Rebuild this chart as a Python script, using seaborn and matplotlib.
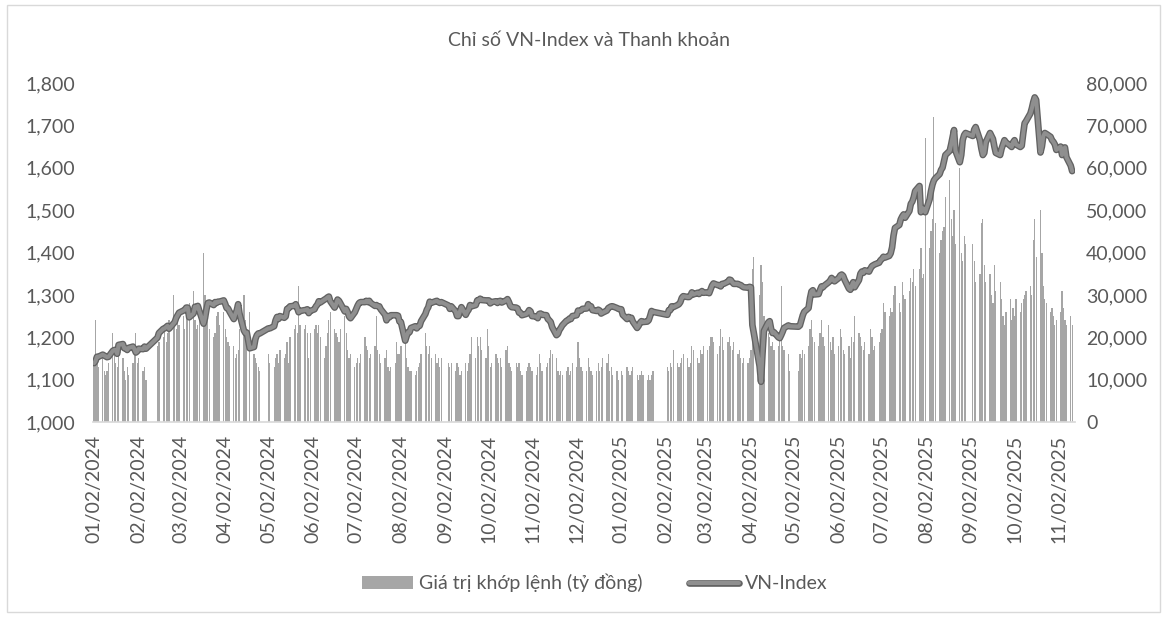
import datetime as dt
import matplotlib
matplotlib.use("Agg")
import matplotlib.pyplot as plt
import matplotlib.dates as mdates
import matplotlib.patheffects as pe
from matplotlib.patches import Patch, Rectangle
from matplotlib.lines import Line2D
from matplotlib.ticker import FuncFormatter, MultipleLocator
import pandas as pd
import seaborn as sns

# Data: one row per month, one value per trading day
months = pd.period_range("2024-01", "2025-11", freq="M")
last_day = "2025-11-11"
holidays = ["2024-02-08", "2024-02-09", "2024-02-12", "2024-02-13", "2024-02-14",
            "2024-04-18", "2024-04-29", "2024-04-30", "2024-05-01",
            "2024-09-02", "2024-09-03",
            "2025-01-01", "2025-01-27", "2025-01-28", "2025-01-29", "2025-01-30",
            "2025-01-31", "2025-04-07", "2025-04-30", "2025-05-01", "2025-05-02",
            "2025-09-01", "2025-09-02"]

vnindex = [
    [1139, 1144, 1154, 1154, 1159, 1157, 1155, 1153, 1154, 1168, 1170, 1170, 1161, 1182, 1184, 1174, 1174, 1170, 1175, 1178, 1172, 1164],
    [1167, 1173, 1172, 1178, 1173, 1199, 1210, 1220, 1221, 1224, 1227, 1220, 1232, 1236, 1246, 1252],
    [1258, 1263, 1265, 1270, 1270, 1247, 1256, 1272, 1268, 1274, 1263, 1232, 1245, 1266, 1281, 1282, 1276, 1283, 1281, 1284, 1284],
    [1287, 1279, 1269, 1268, 1261, 1243, 1254, 1263, 1278, 1255, 1216, 1210, 1211, 1174, 1177, 1196, 1205, 1209, 1209],
    [1221, 1221, 1226, 1240, 1248, 1243, 1250, 1246, 1249, 1267, 1268, 1273, 1274, 1278, 1269, 1259, 1262, 1264, 1264, 1266, 1257, 1262],
    [1266, 1273, 1277, 1285, 1282, 1289, 1291, 1294, 1296, 1285, 1270, 1278, 1289, 1286, 1280, 1261, 1267, 1260, 1249, 1245],
    [1259, 1267, 1275, 1281, 1283, 1283, 1286, 1283, 1286, 1281, 1274, 1276, 1273, 1273, 1266, 1253, 1240, 1250, 1247, 1252, 1252, 1252, 1251],
    [1237, 1236, 1192, 1203, 1212, 1212, 1222, 1226, 1221, 1226, 1227, 1238, 1255, 1265, 1271, 1284, 1281, 1285, 1286, 1283, 1281, 1283],
    [1275, 1267, 1273, 1261, 1250, 1250, 1261, 1271, 1253, 1260, 1265, 1276, 1273, 1276, 1287, 1287, 1291, 1288, 1287],
    [1287, 1287, 1280, 1283, 1285, 1281, 1285, 1286, 1282, 1287, 1290, 1283, 1274, 1271, 1270, 1268, 1258, 1258, 1252, 1255, 1258, 1264, 1261],
    [1250, 1249, 1245, 1255, 1256, 1253, 1252, 1243, 1240, 1236, 1224, 1205, 1208, 1217, 1222, 1228, 1239, 1240, 1244, 1243, 1250],
    [1252, 1263, 1262, 1263, 1267, 1268, 1278, 1273, 1273, 1264, 1262, 1265, 1263, 1256, 1258, 1263, 1269, 1271, 1273, 1273, 1269, 1267],
    [1266, 1253, 1243, 1248, 1245, 1246, 1237, 1222, 1227, 1234, 1238, 1236, 1237, 1240, 1250, 1262, 1260],
    [1253, 1264, 1264, 1273, 1271, 1276, 1278, 1283, 1293, 1297, 1295, 1295, 1298, 1306, 1301, 1305, 1302, 1306, 1309, 1305],
    [1306, 1304, 1313, 1322, 1327, 1323, 1323, 1320, 1326, 1326, 1331, 1336, 1335, 1330, 1326, 1326, 1324, 1323, 1320, 1318, 1317],
    [1319, 1318, 1229, 1210, 1132, 1095, 1160, 1215, 1235, 1238, 1220, 1210, 1212, 1200, 1198, 1205, 1213, 1222, 1228, 1226],
    [1225, 1228, 1240, 1252, 1260, 1269, 1292, 1308, 1311, 1301, 1302, 1312, 1320, 1318, 1322, 1330, 1334, 1340, 1336, 1332],
    [1340, 1346, 1348, 1345, 1336, 1315, 1312, 1322, 1330, 1318, 1335, 1350, 1355, 1352, 1358, 1355, 1362, 1368, 1370, 1372, 1376],
    [1382, 1385, 1390, 1388, 1392, 1398, 1412, 1440, 1458, 1465, 1478, 1485, 1490, 1482, 1498, 1515, 1520, 1530, 1545, 1557, 1495, 1505, 1502],
    [1495, 1525, 1545, 1560, 1570, 1575, 1585, 1595, 1600, 1615, 1630, 1640, 1655, 1672, 1689, 1640, 1613, 1630, 1665, 1677, 1682],
    [1675, 1690, 1696, 1665, 1645, 1630, 1635, 1660, 1682, 1675, 1668, 1650, 1635, 1630, 1645, 1655, 1665, 1660, 1652, 1649],
    [1660, 1665, 1655, 1649, 1652, 1680, 1705, 1710, 1728, 1740, 1755, 1766, 1760, 1636, 1650, 1675, 1682, 1680, 1673, 1665, 1661, 1655, 1642],
    [1650, 1630, 1642, 1648, 1625, 1605, 1592],
]

# matched value, thousand billion VND
volume_k = [
    [14, 24, 15, 13, 15, 12, 11, 12, 14, 21, 16, 14, 13, 16, 15, 12, 10, 13, 11, 14, 16, 21],
    [14, 15, 12, 13, 10, 18, 19, 20, 22, 19, 21, 24, 30, 24, 22, 26],
    [23, 25, 22, 26, 24, 28, 31, 24, 22, 23, 25, 40, 30, 26, 24, 22, 20, 21, 25, 26, 23],
    [26, 22, 20, 19, 18, 18, 15, 16, 17, 22, 30, 24, 18, 26, 16, 15, 14, 13, 12],
    [16, 14, 13, 15, 16, 14, 17, 15, 16, 19, 14, 20, 22, 23, 21, 32, 23, 22, 23, 21, 15, 21],
    [22, 23, 21, 23, 20, 15, 18, 21, 24, 26, 22, 21, 20, 19, 22, 25, 21, 17, 15, 16],
    [13, 14, 15, 14, 16, 20, 18, 17, 15, 16, 18, 25, 17, 16, 14, 15, 17, 13, 12, 13, 14, 19, 16],
    [16, 18, 21, 15, 13, 12, 12, 11, 12, 13, 14, 16, 21, 18, 16, 18, 15, 16, 14, 15, 13, 15],
    [14, 13, 14, 12, 14, 13, 11, 12, 14, 12, 14, 16, 20, 15, 20, 18, 20, 17, 15],
    [22, 18, 13, 14, 16, 15, 14, 15, 13, 17, 18, 14, 13, 12, 14, 13, 14, 12, 11, 12, 13, 14, 13],
    [12, 11, 13, 16, 14, 12, 13, 14, 15, 17, 16, 15, 12, 11, 12, 11, 12, 13, 11, 12, 14],
    [13, 19, 15, 13, 12, 12, 15, 13, 12, 11, 12, 14, 12, 13, 15, 14, 16, 12, 13, 11, 12, 10],
    [12, 11, 13, 12, 11, 12, 13, 11, 10, 11, 12, 11, 10, 11, 10, 11, 12],
    [13, 12, 14, 13, 17, 14, 13, 14, 15, 16, 15, 13, 14, 18, 17, 15, 14, 17, 16, 18],
    [17, 18, 20, 20, 19, 16, 18, 22, 20, 17, 19, 20, 18, 17, 19, 16, 17, 15, 14, 15, 14],
    [15, 17, 36, 39, 30, 37, 33, 25, 21, 20, 18, 19, 17, 18, 20, 32, 18, 17, 16, 12],
    [12, 16, 15, 17, 16, 18, 22, 24, 20, 19, 18, 21, 24, 20, 18, 23, 19, 17, 20, 16],
    [18, 22, 20, 17, 16, 18, 15, 20, 19, 25, 21, 20, 18, 17, 19, 16, 22, 20, 17, 18, 19],
    [21, 22, 28, 26, 25, 27, 26, 30, 32, 28, 26, 33, 30, 29, 31, 34, 33, 36, 32, 36, 41, 34, 35],
    [67, 41, 45, 48, 72, 47, 40, 43, 45, 46, 53, 57, 48, 44, 50, 42, 60, 40, 38, 44, 42],
    [42, 38, 33, 35, 47, 48, 37, 33, 35, 30, 28, 37, 31, 33, 29, 25, 23, 26, 29, 24],
    [27, 25, 29, 26, 28, 29, 30, 31, 32, 30, 43, 48, 39, 50, 40, 32, 29, 28, 26, 27, 25, 23, 24],
    [26, 31, 27, 24, 23, 25, 23],
]

title = "Chỉ số VN-Index và Thanh khoản"
bar_label = "Giá trị khớp lệnh (tỷ đồng)"
line_label = "VN-Index"

# Trading days (weekdays minus exchange holidays), matched month by month
trading = pd.bdate_range("2024-01-02", last_day)
trading = trading[~trading.isin(pd.to_datetime(holidays))]

rows = []
for m, iv, vv in zip(months, vnindex, volume_k):
    days = trading[(trading.year == m.year) & (trading.month == m.month)]
    if len(days) != len(iv) or len(days) != len(vv):
        raise ValueError(f"{m}: {len(days)} days, {len(iv)} index, {len(vv)} volume")
    for d, i, v in zip(days, iv, vv):
        rows.append({"date": d, "vnindex": i, "volume": v * 1000})
df = pd.DataFrame(rows)

sns.set_theme(style="white")
plt.rcParams["font.family"] = ["Lato", "DejaVu Sans"]
text_color = "#595959"
bar_color = "#a6a6a6"
line_color = "#8f8f8f"
line_fx = [pe.Stroke(linewidth=4.8, foreground="#626262"), pe.Normal()]

fig = plt.figure(figsize=(11.67, 6.17), dpi=100)
ax = fig.add_axes([0.0797, 0.316, 0.8415, 0.5495])
ax2 = ax.twinx()

ax2.bar(df["date"], df["volume"], width=0.85, color=bar_color, linewidth=0)
sns.lineplot(data=df, x="date", y="vnindex", ax=ax, color=line_color,
             linewidth=2.9, path_effects=line_fx)

# line on top of the bars
ax.set_zorder(ax2.get_zorder() + 1)
ax.patch.set_visible(False)

ax.set_xlim(dt.datetime(2024, 1, 1, 6), dt.datetime(2025, 11, 13))
ax.set_ylim(1000, 1800)
ax2.set_ylim(0, 80000)
ax.yaxis.set_major_locator(MultipleLocator(100))
ax2.yaxis.set_major_locator(MultipleLocator(10000))
comma = FuncFormatter(lambda v, p: f"{v:,.0f}")
ax.yaxis.set_major_formatter(comma)
ax2.yaxis.set_major_formatter(comma)

ticks = [m.to_timestamp() + pd.Timedelta(days=1) for m in months]
ax.set_xticks(ticks)
ax.xaxis.set_major_formatter(mdates.DateFormatter("%m/%d/%Y"))
ax.tick_params(axis="x", labelrotation=90, labelsize=14, colors=text_color,
               length=3, width=0.8, pad=6, color="#d0d0d0")
ax.tick_params(axis="y", labelsize=14, colors=text_color, length=0, pad=13)
ax2.tick_params(axis="y", labelsize=14, colors=text_color, length=0, pad=8)
ax.set_xlabel("")
ax.set_ylabel("")
ax2.set_ylabel("")

for a in (ax, ax2):
    for s in ("top", "left", "right"):
        a.spines[s].set_visible(False)
    a.spines["bottom"].set_color("#d9d9d9")
    a.grid(False)
ax2.spines["bottom"].set_visible(False)

fig.text(0.505, 0.935, title, ha="center", va="center", fontsize=14, color=text_color)

handles = [Patch(facecolor=bar_color, edgecolor="none"),
           Line2D([0], [0], color=line_color, linewidth=2.9, path_effects=line_fx)]
fig.legend(handles, [bar_label, line_label], loc="center", bbox_to_anchor=(0.51, 0.055),
           ncol=2, frameon=False, fontsize=14, labelcolor=text_color,
           handlelength=2.6, handletextpad=0.3, columnspacing=2.4)

fig.add_artist(Rectangle((0.006, 0.008), 0.988, 0.984, transform=fig.transFigure,
                         fill=False, edgecolor="#d9d9d9", linewidth=1))

fig.savefig("out.png", dpi=100)
